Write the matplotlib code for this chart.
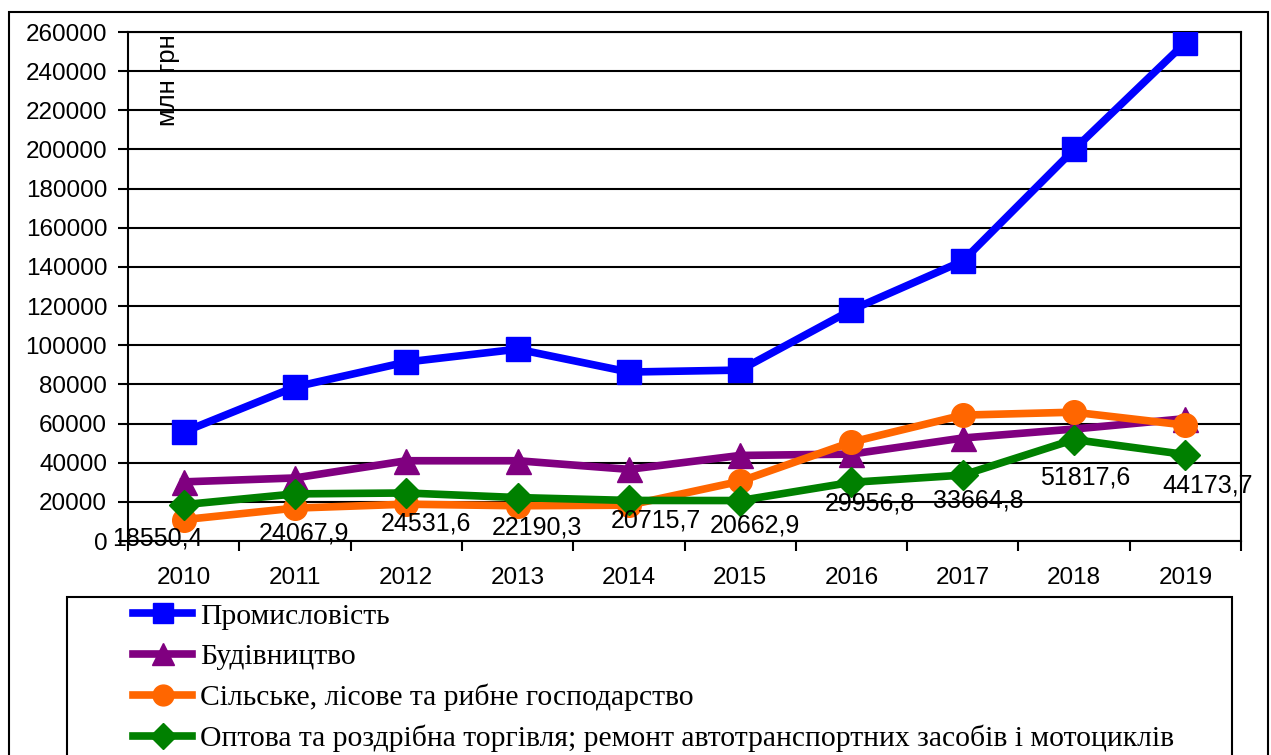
import matplotlib
matplotlib.use("Agg")
import matplotlib.pyplot as plt
from matplotlib.patches import Rectangle
from matplotlib.lines import Line2D

# data (млн грн)
years = ['2010', '2011', '2012', '2013', '2014', '2015', '2016', '2017', '2018', '2019']
industry = [55700, 78700, 91400, 98000, 86300, 87300, 118000, 143000, 200000, 254600]
construction = [30200, 32200, 41000, 41000, 36600, 43700, 44400, 52600, 57200, 62500]
agriculture = [10900, 16800, 18800, 18000, 18300, 30500, 50500, 64300, 65800, 59200]
trade = [18550.4, 24067.9, 24531.6, 22190.3, 20715.7, 20662.9, 29956.8, 33664.8, 51817.6, 44173.7]
trade_labels = ['18550,4', '24067,9', '24531,6', '22190,3', '20715,7',
                '20662,9', '29956,8', '33664,8', '51817,6', '44173,7']
series_names = ['Промисловість', 'Будівництво', 'Сільське, лісове та рибне господарство',
                'Оптова та роздрібна торгівля; ремонт автотранспортних засобів і мотоциклів']

# label nudges in pixels (labels were moved by hand in the original)
label_dx = [-26, 9, 20, 19, 27, 15, 18, 16, 11, 22]
label_dy = [-34, -40, -31, -30, -20, -25, -21, -25, -38, -31]

W, H = 1271, 755
fig = plt.figure(figsize=(W / 100, H / 100), dpi=100)
ax = fig.add_axes([128 / W, 1 - 541 / H, (1241 - 128) / W, (541 - 32) / H])

x = list(range(len(years)))
styles = [
    (industry, '#0000FF', 's', 17),
    (construction, '#800080', '^', 18),
    (agriculture, '#FF6600', 'o', 17),
    (trade, '#008000', 'D', 15),
]
handles = []
for (vals, col, mk, ms), name in zip(styles, series_names):
    ax.plot(x, vals, color=col, lw=5.5, marker=mk, markersize=ms, zorder=3)
    handles.append(Line2D([], [], color=col, lw=5.5, marker=mk, markersize=ms - 2, label=name))

for i, (v, t) in enumerate(zip(trade, trade_labels)):
    ax.annotate(t, (i, v), xytext=(label_dx[i], label_dy[i]), textcoords='offset pixels',
                ha='center', va='center', fontsize=18, family='Liberation Sans', zorder=4)

ax.set_ylim(0, 260000)
ax.set_yticks(range(0, 260001, 20000))
ax.set_yticklabels([str(v) for v in range(0, 260001, 20000)], fontsize=17.5, family='Liberation Sans')
ax.yaxis.grid(True, color='black', lw=1.5)
ax.set_axisbelow(True)
ax.tick_params(axis='y', length=7, width=1.5, pad=8)

ax.set_xlim(-0.5, len(years) - 0.5)
ax.set_xticks([i - 0.5 for i in range(len(years) + 1)])
ax.set_xticklabels([])
ax.set_xticks(x, minor=True)
ax.set_xticklabels(years, minor=True, fontsize=17.5, family='Liberation Sans')
ax.tick_params(axis='x', which='major', length=7, width=1.5)
ax.tick_params(axis='x', which='minor', length=0, pad=19)
for s in ax.spines.values():
    s.set_linewidth(1.5)
    s.set_color('black')

ax.text(0.036, 0.995, 'млн грн', transform=ax.transAxes, rotation=90, ha='center', va='top',
        fontsize=18.5, family='Liberation Sans')

# outer chart frame and legend box (both run past the bottom edge)
fig.patches.append(Rectangle((9 / W, -0.1), (1268 - 9) / W, 1.1 - 12 / H, transform=fig.transFigure,
                             fill=False, ec='black', lw=1.5))
fig.patches.append(Rectangle((67 / W, -0.1), (1232 - 67) / W, 0.1 + 1 - 597 / H, transform=fig.transFigure,
                             fill=False, ec='black', lw=1.5))

fig.legend(handles=handles, loc='upper left', bbox_to_anchor=(133 / W, 1 - 603 / H),
           frameon=False, borderpad=0, borderaxespad=0, handlelength=2.0, handletextpad=0.27,
           labelspacing=0.46, prop={'family': 'Liberation Serif', 'size': 21.3})

fig.savefig('out.png', dpi=100)
